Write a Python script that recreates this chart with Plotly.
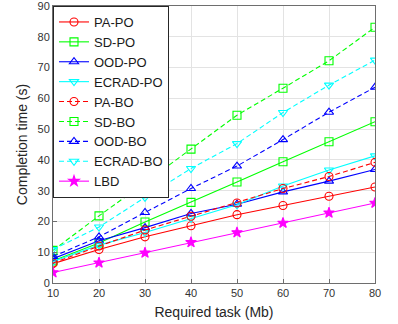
import plotly.graph_objects as go

x_task = [10, 20, 30, 40, 50, 60, 70, 80]

pa_po = [6.3, 10.9, 15.0, 18.6, 22.2, 25.2, 28.2, 31.2]
sd_po = [7.2, 13.0, 19.8, 26.2, 32.8, 39.4, 45.9, 52.4]
ood_po = [7.9, 13.7, 18.0, 22.6, 25.6, 29.6, 33.1, 36.9]
ecrad_po = [7.0, 12.3, 16.4, 21.0, 25.4, 31.5, 36.7, 41.3]
pa_bo = [6.5, 12.0, 17.2, 21.7, 26.0, 30.7, 34.6, 39.2]
sd_bo = [10.6, 21.8, 32.6, 43.5, 54.5, 63.3, 72.2, 83.1]
ood_bo = [8.6, 15.0, 22.9, 30.7, 38.0, 46.6, 55.5, 63.6]
ecrad_bo = [10.9, 18.2, 27.8, 37.2, 45.3, 55.4, 64.3, 72.4]
lbd = [3.4, 6.6, 9.8, 13.2, 16.4, 19.5, 22.8, 26.0]

series = [
    ("PA-PO", pa_po, "#ff0000", "solid", "circle-open"),
    ("SD-PO", sd_po, "#00ff00", "solid", "square-open"),
    ("OOD-PO", ood_po, "#0000ff", "solid", "triangle-up-open"),
    ("ECRAD-PO", ecrad_po, "#00ffff", "solid", "triangle-down-open"),
    ("PA-BO", pa_bo, "#ff0000", "5px,3px", "circle-open"),
    ("SD-BO", sd_bo, "#00ff00", "5px,3px", "square-open"),
    ("OOD-BO", ood_bo, "#0000ff", "5px,3px", "triangle-up-open"),
    ("ECRAD-BO", ecrad_bo, "#00ffff", "5px,3px", "triangle-down-open"),
    ("LBD", lbd, "#ff00ff", "solid", "star"),
]

fig = go.Figure()
for name, ys, col, dash, sym in series:
    fig.add_trace(go.Scatter(
        x=x_task, y=ys, name=name, mode="lines+markers",
        line=dict(color=col, width=1.1, dash=dash),
        marker=dict(symbol=sym, size=8, color=col,
                    line=dict(color=col, width=1.1)),
    ))

axis_common = dict(
    showline=True, mirror=True, linecolor="#6e6e6e", linewidth=1,
    ticks="inside", ticklen=4, tickcolor="#6e6e6e",
    showgrid=True, gridcolor="#e3e3e3", gridwidth=1, zeroline=False,
    automargin=False, ticklabeloverflow="allow",
    tickfont=dict(family="Liberation Sans, Arial", size=11, color="#333333"),
)

fig.update_layout(
    width=398, height=324,
    margin=dict(l=53, r=23, t=6, b=41),
    paper_bgcolor="white", plot_bgcolor="white",
    font=dict(family="Liberation Sans, Arial", color="#262626"),
    xaxis=dict(range=[10, 80], tickvals=[10, 20, 30, 40, 50, 60, 70, 80],
               title=dict(text="Required task (Mb)", font=dict(size=14), standoff=8),
               **axis_common),
    yaxis=dict(range=[0, 90], tickvals=[0, 10, 20, 30, 40, 50, 60, 70, 80, 90],
               title=dict(text="Completion time (s)", font=dict(size=14), standoff=6),
               **axis_common),
    legend=dict(x=0, y=1, xanchor="left", yanchor="top",
                bgcolor="white", bordercolor="#262626", borderwidth=1,
                font=dict(family="Liberation Sans, Arial", size=13, color="#1a1a1a"),
                itemwidth=30, tracegroupgap=0),
    showlegend=True,
)

fig.write_html("out.html", config={"displayModeBar": False},
               post_script="document.body.style.margin='0px';")
